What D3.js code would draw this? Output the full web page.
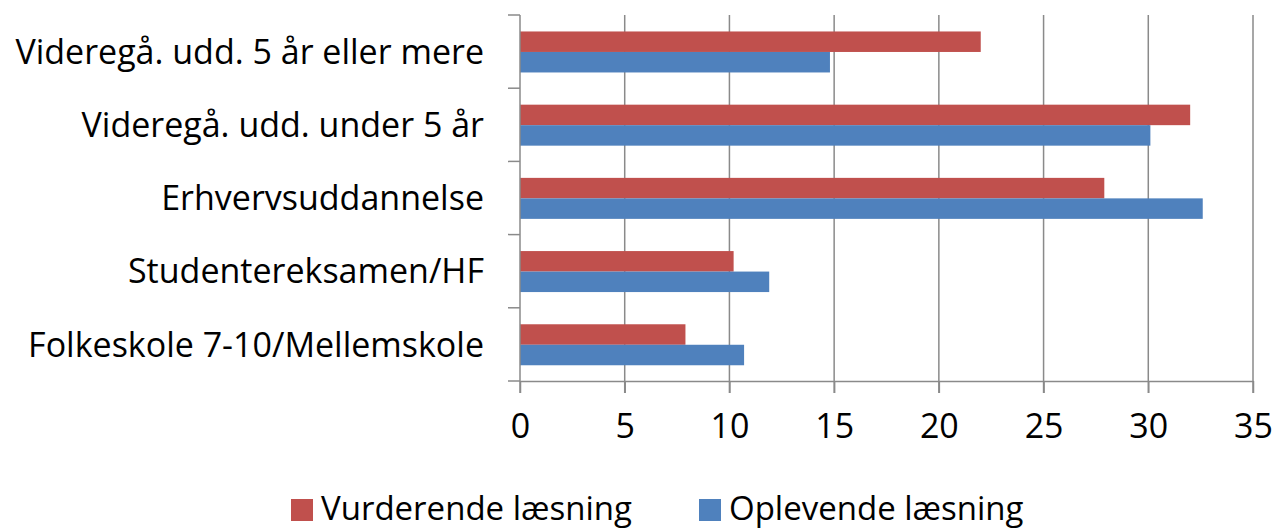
<!DOCTYPE html>
<html>
<head>
<meta charset="utf-8">
<script src="https://cdn.jsdelivr.net/npm/d3@7"></script>
<style>
  body { margin: 0; background: #fff; }
  text { font-family: "Open Sans", Lato, sans-serif; fill: #000; }
</style>
</head>
<body>
<div id="chart"></div>
<script>
/////////////////////////////////////////////////
/* Data */
/////////////////////////////////////////////////
const categories = [
  "Videregå. udd. 5 år eller mere",
  "Videregå. udd. under 5 år",
  "Erhvervsuddannelse",
  "Studentereksamen/HF",
  "Folkeskole 7-10/Mellemskole"
];
const seriesNames = ["Vurderende læsning", "Oplevende læsning"];
const vurderende = [22, 32, 27.9, 10.2, 7.9];
const oplevende = [14.8, 30.1, 32.6, 11.9, 10.7];
const xTicks = [0, 5, 10, 15, 20, 25, 30, 35];
const colors = ["#C0504D", "#4F81BD"];

/////////////////////////////////////////////////
/* Layout */
/////////////////////////////////////////////////
const W = 1274, H = 532;
const margin = {top: 15, right: 21, bottom: 151, left: 520};
const width = W - margin.left - margin.right,
      height = H - margin.top - margin.bottom;
const FONT = 34;
const GRID = "#8a8a8a";

const svg = d3.select("#chart").append("svg")
    .attr("width", W)
    .attr("height", H);

const g = svg.append("g")
    .attr("transform", "translate(" + margin.left + "," + margin.top + ")");

// scales
const x = d3.scaleLinear().domain([0, 35]).range([0, width]);
const y = d3.scaleBand().domain(categories).range([0, height]).padding(0);
const ySub = d3.scaleBand().domain(seriesNames)
    .range([y.bandwidth() * 0.225, y.bandwidth() * 0.785]).padding(0);

// vertical gridlines (with tick extension below axis)
g.append("g").selectAll("line")
  .data(xTicks.slice(1))
  .join("line")
    .attr("x1", d => x(d)).attr("x2", d => x(d))
    .attr("y1", 0).attr("y2", height + 12)
    .attr("stroke", GRID).attr("stroke-width", 1.5);

// bars
const series = [vurderende, oplevende];
const groups = g.append("g").selectAll("g")
  .data(categories)
  .join("g")
    .attr("transform", d => "translate(0," + y(d) + ")");

groups.selectAll("rect")
  .data((d, i) => seriesNames.map((s, j) => ({s: s, v: series[j][i], c: colors[j]})))
  .join("rect")
    .attr("x", x(0))
    .attr("y", d => ySub(d.s))
    .attr("width", d => x(d.v) - x(0))
    .attr("height", ySub.bandwidth())
    .attr("fill", d => d.c);

// x axis
const xAxis = g.append("g")
    .attr("transform", "translate(0," + height + ")")
    .call(d3.axisBottom(x).tickValues(xTicks).tickSize(12).tickPadding(21).tickSizeOuter(0));
xAxis.select(".domain").attr("stroke", GRID).attr("stroke-width", 1.5);
xAxis.selectAll(".tick line").attr("stroke", GRID).attr("stroke-width", 1.5);
xAxis.selectAll(".tick text").attr("font-size", FONT).attr("font-family", null).attr("dy", "0.71em");

// y axis line and boundary ticks
g.append("line")
    .attr("x1", 0).attr("x2", 0).attr("y1", 0).attr("y2", height + 12)
    .attr("stroke", GRID).attr("stroke-width", 1.5);
const bounds = categories.map(c => y(c)).concat([height]);
g.append("g").selectAll("line")
  .data(bounds)
  .join("line")
    .attr("x1", -12).attr("x2", 0)
    .attr("y1", d => d).attr("y2", d => d)
    .attr("stroke", GRID).attr("stroke-width", 1.5);

// category labels
g.append("g").selectAll("text")
  .data(categories)
  .join("text")
    .attr("x", -36)
    .attr("y", d => y(d) + y.bandwidth() / 2)
    .attr("dy", "0.36em")
    .attr("text-anchor", "end")
    .attr("font-size", FONT)
    .text(d => d);

// legend
const legendX = [291, 699];
const legend = svg.append("g").selectAll("g")
  .data(seriesNames)
  .join("g")
    .attr("transform", (d, i) => "translate(" + legendX[i] + ",499)");
legend.append("rect")
    .attr("width", 22).attr("height", 22)
    .attr("fill", (d, i) => colors[i]);
legend.append("text")
    .attr("x", 30).attr("y", 21)
    .attr("font-size", 33)
    .text(d => d);
</script>
</body>
</html>
